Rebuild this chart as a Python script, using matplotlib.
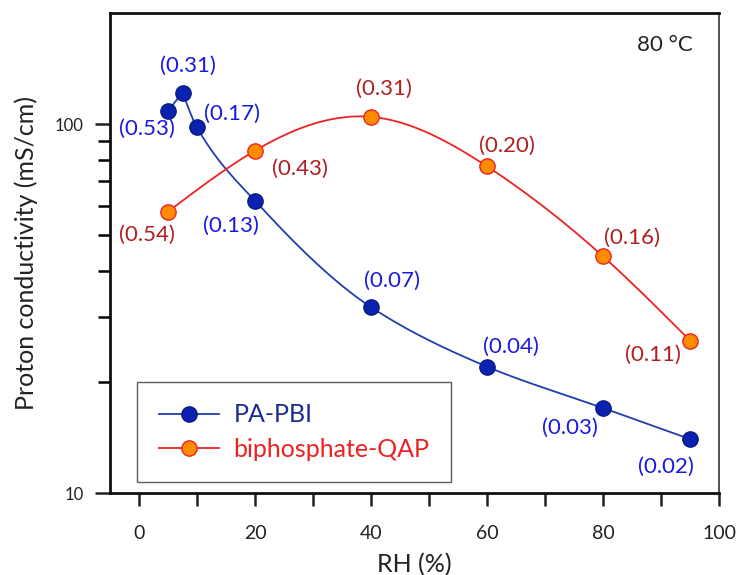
import numpy as np
import matplotlib
matplotlib.use("Agg")
import matplotlib.pyplot as plt
from matplotlib.ticker import FixedLocator, NullFormatter

plt.rcParams['font.family'] = ['Lato', 'DejaVu Sans']

# data
rh_pbi = [5, 7.5, 10, 20, 40, 60, 80, 95]
cond_pbi = [108.6, 121.7, 97.9, 61.9, 31.9, 22.0, 17.0, 14.0]
lab_pbi = ['(0.53)', '(0.31)', '(0.17)', '(0.13)', '(0.07)', '(0.04)', '(0.03)', '(0.02)']

rh_qap = [5, 20, 40, 60, 80, 95]
cond_qap = [57.9, 84.7, 104.6, 76.8, 43.8, 25.9]
lab_qap = ['(0.54)', '(0.43)', '(0.31)', '(0.20)', '(0.16)', '(0.11)']

# label offsets (points)
off_pbi = [(-15, -13), (4, 19), (25, 10), (-17, -18), (15, 19), (17, 14), (-24, -14), (-17, -20)]
off_qap = [(-15, -17), (32, -13), (9, 20), (14, 15), (21, 13), (-27, -10)]


def natural_spline(x, y, n=300):
    """natural cubic spline, only for drawing the smooth line"""
    x = np.asarray(x, float)
    y = np.asarray(y, float)
    k = len(x)
    h = np.diff(x)
    A = np.zeros((k, k))
    b = np.zeros(k)
    A[0, 0] = A[-1, -1] = 1
    for i in range(1, k - 1):
        A[i, i - 1] = h[i - 1]
        A[i, i] = 2 * (h[i - 1] + h[i])
        A[i, i + 1] = h[i]
        b[i] = 6 * ((y[i + 1] - y[i]) / h[i] - (y[i] - y[i - 1]) / h[i - 1])
    m = np.linalg.solve(A, b)
    xs = np.linspace(x[0], x[-1], n)
    idx = np.clip(np.searchsorted(x, xs) - 1, 0, k - 2)
    t0 = xs - x[idx]
    t1 = x[idx + 1] - xs
    hi = h[idx]
    ys = (m[idx] * t1 ** 3 + m[idx + 1] * t0 ** 3) / (6 * hi) \
        + (y[idx] / hi - m[idx] * hi / 6) * t1 \
        + (y[idx + 1] / hi - m[idx + 1] * hi / 6) * t0
    return xs, ys


def pchip(x, y, n=300):
    """monotone cubic (Fritsch-Carlson), keeps the decaying curve convex"""
    x = np.asarray(x, float)
    y = np.asarray(y, float)
    h = np.diff(x)
    delta = np.diff(y) / h
    k = len(x)
    d = np.zeros(k)
    for i in range(1, k - 1):
        if delta[i - 1] * delta[i] > 0:
            w1 = 2 * h[i] + h[i - 1]
            w2 = h[i] + 2 * h[i - 1]
            d[i] = (w1 + w2) / (w1 / delta[i - 1] + w2 / delta[i])
    d[0] = ((2 * h[0] + h[1]) * delta[0] - h[0] * delta[1]) / (h[0] + h[1])
    if np.sign(d[0]) != np.sign(delta[0]):
        d[0] = 0
    d[-1] = ((2 * h[-1] + h[-2]) * delta[-1] - h[-1] * delta[-2]) / (h[-1] + h[-2])
    if np.sign(d[-1]) != np.sign(delta[-1]):
        d[-1] = 0
    xs = np.linspace(x[0], x[-1], n)
    idx = np.clip(np.searchsorted(x, xs) - 1, 0, k - 2)
    t = (xs - x[idx]) / h[idx]
    hh = h[idx]
    ys = (2 * t ** 3 - 3 * t ** 2 + 1) * y[idx] + (t ** 3 - 2 * t ** 2 + t) * hh * d[idx] \
        + (-2 * t ** 3 + 3 * t ** 2) * y[idx + 1] + (t ** 3 - t ** 2) * hh * d[idx + 1]
    return xs, ys


fig = plt.figure(figsize=(7.37, 5.75), dpi=100)
ax = fig.add_axes([0.1493, 0.1426, 0.8263, 0.8348])

c_blue_line = '#1f3fae'
c_red_line = '#ee2222'

# PA-PBI: straight first segment then smooth curve
xs, ys = pchip(rh_pbi[1:], np.log10(cond_pbi[1:]))
ax.plot(rh_pbi[:2], cond_pbi[:2], color=c_blue_line, lw=1.3, zorder=2)
ax.plot(xs, 10 ** ys, color=c_blue_line, lw=1.3, zorder=2)
ax.plot(rh_pbi, cond_pbi, 'o', ms=11, mfc='#0a22b0', mec='#0a1a80', mew=1, zorder=3)

xs, ys = natural_spline(rh_qap, np.log10(cond_qap))
ax.plot(xs, 10 ** ys, color=c_red_line, lw=1.3, zorder=2)
ax.plot(rh_qap, cond_qap, 'o', ms=11, mfc='#ff8c00', mec='#ee2222', mew=1, zorder=3)

for x, y, s, o in zip(rh_pbi, cond_pbi, lab_pbi, off_pbi):
    ax.annotate(s, (x, y), xytext=o, textcoords='offset points',
                ha='center', va='center', fontsize=16, color='#1a1ae0')
for x, y, s, o in zip(rh_qap, cond_qap, lab_qap, off_qap):
    ax.annotate(s, (x, y), xytext=o, textcoords='offset points',
                ha='center', va='center', fontsize=16, color='#b02020')

# legend handles
h1, = ax.plot([], [], '-o', color=c_blue_line, lw=1.3, ms=11, mfc='#0a22b0', mec='#0a1a80')
h2, = ax.plot([], [], '-o', color=c_red_line, lw=1.3, ms=11, mfc='#ff8c00', mec='#ee2222')
leg = ax.legend([h1, h2], ['PA-PBI', 'biphosphate-QAP'], loc='lower left',
                bbox_to_anchor=(0.045, 0.023), fontsize=18, frameon=True,
                fancybox=False, edgecolor='#333333', handlelength=2.4,
                borderpad=0.85, labelspacing=0.45, handletextpad=0.6,
                borderaxespad=0)
leg.get_frame().set_linewidth(1.0)
for t, c in zip(leg.get_texts(), ['#1a2a90', '#ee2020']):
    t.set_color(c)

ax.text(0.957, 0.933, '80 °C', transform=ax.transAxes, ha='right', va='center',
        fontsize=16, color='#222222')

ax.set_yscale('log')
ax.set_xlim(-5, 100)
ax.set_ylim(10, 200)
ax.set_xticks([0, 20, 40, 60, 80, 100])
ax.xaxis.set_minor_locator(FixedLocator([10, 30, 50, 70, 90]))
ax.yaxis.set_major_locator(FixedLocator([10, 100]))
ax.yaxis.set_minor_locator(FixedLocator([20, 30, 40, 50, 60, 70, 80, 90]))
ax.yaxis.set_minor_formatter(NullFormatter())
ax.set_yticklabels(['10', '100'])

ax.tick_params(axis='x', which='both', direction='out', length=9, width=1.8,
               labelsize=14, pad=14, colors='#222222')
ax.tick_params(axis='y', which='major', direction='out', length=11, width=1.8,
               labelsize=12, pad=8, colors='#222222')
ax.tick_params(axis='y', which='minor', direction='out', length=9, width=1.8)
for side in ['left', 'bottom', 'top']:
    ax.spines[side].set_linewidth(2)
    ax.spines[side].set_color('#111111')
ax.spines['right'].set_linewidth(1.2)
ax.spines['right'].set_color('#333333')

ax.set_xlabel('RH (%)', fontsize=18, color='#222222', labelpad=8)
ax.set_ylabel('Proton conductivity (mS/cm)', fontsize=18, color='#222222', labelpad=12)

fig.savefig('out.png', dpi=100)
